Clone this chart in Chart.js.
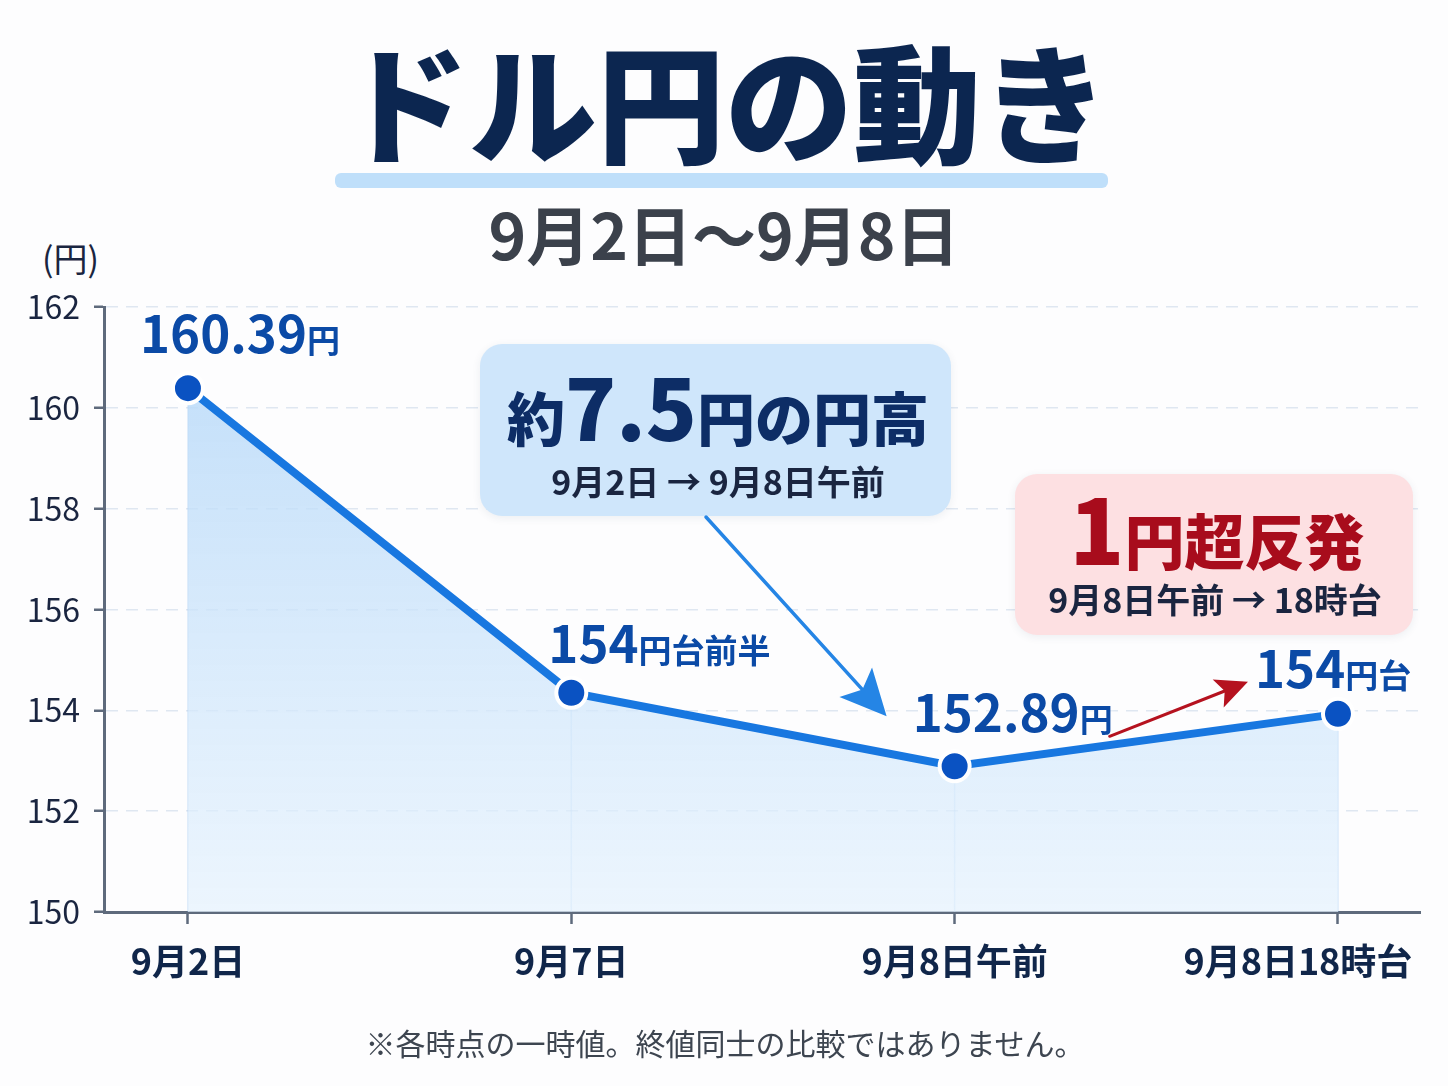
<!DOCTYPE html>
<html lang="ja">
<head>
<meta charset="utf-8">
<script src="https://cdn.jsdelivr.net/npm/chart.js@4"></script>
<style>
  html, body { margin:0; padding:0; background:#fdfdfe; }
  body { width:1448px; height:1086px; position:relative; overflow:hidden; font-family:"Noto Sans CJK JP","Noto Sans",sans-serif; }
  #c { position:absolute; left:0; top:0; }
  .t { position:absolute; white-space:nowrap; }
  #title { left:0; width:1450px; text-align:center; top:35px; font-size:128px; line-height:128px; font-weight:900; color:#0c2650; }
  #bar { position:absolute; left:335px; top:173px; width:773px; height:15px; background:#bfdffa; border-radius:6px; }
  #sub { left:0; width:1448px; text-align:center; top:199px; font-size:64px; line-height:66px; font-weight:700; color:#3b414b; }
  #unit { left:42px; top:238px; font-size:34px; line-height:40px; color:#1a2540; }
  #foot { left:0; width:1450px; text-align:center; top:1025px; font-size:30px; line-height:34px; color:#3d4550; }
</style>
</head>
<body>
<div id="bar"></div>
<div class="t" id="title">ドル円の動き</div>
<div class="t" id="sub">9月2日～9月8日</div>
<div class="t" id="unit">(円)</div>
<canvas id="c" width="1448" height="1086"></canvas>
<div class="t" id="foot">※各時点の一時値。終値同士の比較ではありません。</div>
<script>
// ---- data ----
const categories = ['9月2日', '9月7日', '9月8日午前', '9月8日18時台'];
const rates = [160.39, 154.35, 152.89, 153.93];
const labelMain = ['160.39', '154', '152.89', '154'];
const labelSuffix = ['円', '円台前半', '円', '円台'];
const yTicks = [150, 152, 154, 156, 158, 160, 162];
const note1Big = ['約', '7.5', '円の円高'];
const note1Sub = '9月2日 → 9月8日午前';
const note2Big = ['1', '円超反発'];
const note2Sub = '9月8日午前 → 18時台';

// ---- styling / layout (not data) ----
const FONT = '"Noto Sans CJK JP","Noto Sans",sans-serif';
const labelOffsets = [[-48, -35], [-23, -30], [-42, -34], [-83, -26]];

function drawArrow(ctx, x1, y1, x2, y2, color, w, hl, hw, notch) {
  const a = Math.atan2(y2 - y1, x2 - x1);
  const cos = Math.cos(a), sin = Math.sin(a);
  const bx = x2 - cos * (hl - notch), by = y2 - sin * (hl - notch);
  ctx.save();
  ctx.strokeStyle = color; ctx.fillStyle = color; ctx.lineWidth = w; ctx.lineCap = 'round';
  ctx.beginPath(); ctx.moveTo(x1, y1); ctx.lineTo(bx, by); ctx.stroke();
  const hx = x2 - cos * hl, hy = y2 - sin * hl;
  ctx.beginPath();
  ctx.moveTo(x2, y2);
  ctx.lineTo(hx - sin * hw, hy + cos * hw);
  ctx.lineTo(bx, by);
  ctx.lineTo(hx + sin * hw, hy - cos * hw);
  ctx.closePath(); ctx.fill();
  ctx.restore();
}

function roundBox(ctx, x, y, w, h, r, fill) {
  ctx.save();
  ctx.shadowColor = 'rgba(40,60,90,0.08)'; ctx.shadowBlur = 8; ctx.shadowOffsetY = 2;
  ctx.fillStyle = fill;
  ctx.beginPath(); ctx.roundRect(x, y, w, h, r); ctx.fill();
  ctx.restore();
}

function drawRuns(ctx, runs, cx, baseline, align) {
  let total = 0;
  runs.forEach(r => { ctx.font = r[1]; total += ctx.measureText(r[0]).width; });
  let x = align === 'left' ? cx : cx - total / 2;
  ctx.textBaseline = 'alphabetic'; ctx.textAlign = 'left';
  runs.forEach(r => { ctx.font = r[1]; ctx.fillStyle = r[2]; ctx.fillText(r[0], x, baseline); x += ctx.measureText(r[0]).width; });
}

const decor = {
  id: 'decor',
  beforeDatasetsDraw(chart) {
    const ctx = chart.ctx, area = chart.chartArea;
    const pts = chart.getDatasetMeta(0).data;
    ctx.save();
    ctx.strokeStyle = 'rgba(150,195,240,0.35)'; ctx.lineWidth = 1.5;
    pts.forEach(p => { ctx.beginPath(); ctx.moveTo(p.x, p.y); ctx.lineTo(p.x, area.bottom); ctx.stroke(); });
    ctx.restore();
  },
  afterDatasetsDraw(chart) {
    const ctx = chart.ctx;
    const pts = chart.getDatasetMeta(0).data;
    pts.forEach((p, i) => {
      const [dx, dy] = labelOffsets[i];
      ctx.save();
      ctx.shadowColor = 'rgba(255,255,255,0.9)'; ctx.shadowBlur = 6;
      drawRuns(ctx, [[labelMain[i], '700 51px ' + FONT, '#0b4aa6'], [labelSuffix[i], '700 33px ' + FONT, '#0b4aa6']], p.x + dx, p.y + dy, 'left');
      ctx.restore();
    });
    roundBox(ctx, 480, 344, 471, 172, 22, '#cfe6fb');
    drawRuns(ctx, [[note1Big[0], '800 58px ' + FONT, '#0d2d66'], [note1Big[1], '900 84px ' + FONT, '#0d2d66'], [note1Big[2], '800 58px ' + FONT, '#0d2d66']], 718, 441, 'center');
    drawRuns(ctx, [[note1Sub, '600 34px ' + FONT, '#1a2540']], 718, 495, 'center');
    roundBox(ctx, 1015, 474, 398, 161, 22, '#fde0e2');
    drawRuns(ctx, [[note2Big[0], '900 90px ' + FONT, '#a80c1c'], [note2Big[1], '800 60px ' + FONT, '#a80c1c']], 1217, 565, 'center');
    drawRuns(ctx, [[note2Sub, '600 34px ' + FONT, '#1a2540']], 1215, 613, 'center');
    const p2 = pts[2], p3 = pts[3];
    drawArrow(ctx, 706, 517, p2.x - 68, p2.y - 50, '#2585e5', 3.5, 46, 22, 10);
    drawArrow(ctx, p2.x + 155, p2.y - 30, p3.x - 90, p3.y - 32, '#b5121f', 3, 32, 15, 7);
  }
};

const xMin = -0.219, xMax = 3.214;

new Chart(document.getElementById('c'), {
  type: 'line',
  data: {
    datasets: [{
      data: rates.map((v, i) => ({ x: i, y: v })),
      borderColor: '#1877e0',
      borderWidth: 8,
      tension: 0,
      pointRadius: 15,
      pointHoverRadius: 15,
      pointBackgroundColor: '#0a52c2',
      pointBorderColor: '#ffffff',
      pointBorderWidth: 4,
      fill: 'start',
      backgroundColor: (ctx) => {
        const a = ctx.chart.chartArea;
        if (!a) return 'rgba(180,215,248,0.5)';
        const g = ctx.chart.ctx.createLinearGradient(0, a.top, 0, a.bottom);
        g.addColorStop(0, 'rgba(178,214,248,0.85)');
        g.addColorStop(1, 'rgba(228,241,253,0.7)');
        return g;
      }
    }]
  },
  options: {
    responsive: false,
    animation: false,
    devicePixelRatio: 1,
    layout: { padding: { top: 307, right: 28, bottom: 74, left: 0 } },
    plugins: { legend: { display: false }, tooltip: { enabled: false } },
    scales: {
      x: {
        type: 'linear',
        min: xMin, max: xMax,
        afterBuildTicks: (s) => { s.ticks = categories.map((c, i) => ({ value: i })); },
        afterFit: (s) => { s.height = 100; s.paddingLeft = 0; s.paddingRight = 0; },
        grid: { display: true, drawOnChartArea: false, drawTicks: true, tickLength: 12, tickColor: '#5e6a7c', tickWidth: 2.5 },
        border: { display: true, color: '#5e6a7c', width: 3 },
        ticks: {
          padding: 16,
          maxRotation: 0,
          autoSkip: false,
          color: '#10264a',
          font: { family: FONT, size: 36, weight: '700' },
          callback: (v) => {
            const i = Math.round(v);
            return i === categories.length - 1 ? categories[i] + '\u3000\u3000 ' : categories[i];
          }
        }
      },
      y: {
        min: 150, max: 162,
        afterBuildTicks: (s) => { s.ticks = yTicks.map(v => ({ value: v })); },
        afterFit: (s) => { s.width = 104; },
        grid: { color: '#dfe7f1', lineWidth: 1.5, tickLength: 10, tickColor: '#5e6a7c', tickWidth: 2.5 },
        border: { display: true, color: '#5e6a7c', width: 3, dash: [12, 8] },
        ticks: { padding: 14, color: '#1a2540', font: { family: FONT, size: 32, weight: '400' } }
      }
    }
  },
  plugins: [decor]
});
</script>
</body>
</html>
